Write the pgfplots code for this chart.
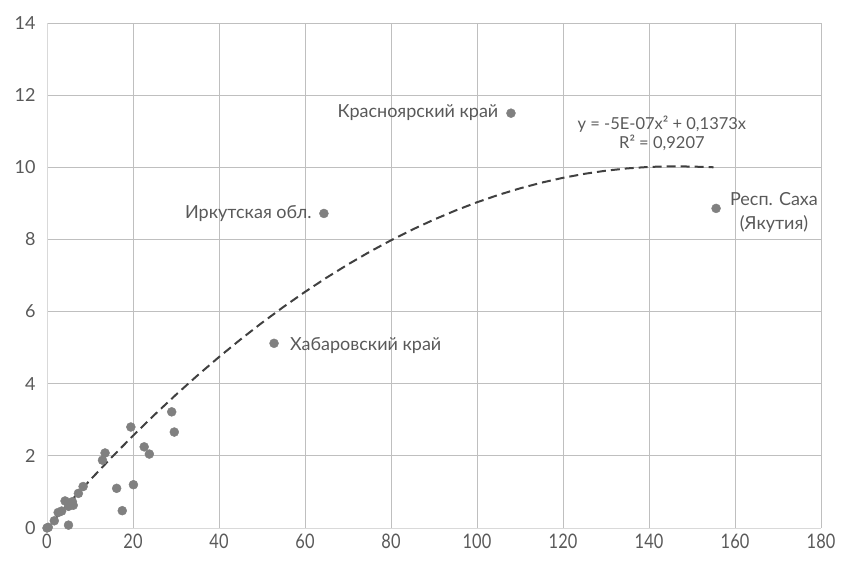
\documentclass[border=0pt]{standalone}
\usepackage{fontspec}
\setmainfont{Lato}
\newfontfamily\xtickfont[FakeStretch=0.82]{Lato}
\usepackage{pgfplots}
\pgfplotsset{compat=1.18}
\definecolor{txt}{HTML}{595959}
\definecolor{grid}{HTML}{D9D9D9}
\definecolor{pt}{HTML}{808080}
\definecolor{trend}{HTML}{404040}
\begin{document}
\begin{tikzpicture}[x=1pt,y=1pt]
\begin{axis}[
  at={(0,0)}, anchor=south west,
  scale only axis, width=774pt, height=505pt,
  xmin=0, xmax=180, ymin=0, ymax=14,
  xtick={0,20,...,180}, ytick={0,2,...,14},
  ymajorgrids, grid style={grid, line width=0.9pt},
  axis line style={grid, line width=0.9pt},
  axis x line*=bottom, axis y line*=left,
  major tick length=0pt,
  tick label style={text=txt},
  /pgf/number format/assume math mode=true,
  xticklabel style={font=\xtickfont\fontsize{20}{22}\selectfont, yshift=-2pt},
  yticklabel style={font=\fontsize{18}{20}\selectfont, xshift=-8pt},
  clip=false,
]
\addplot[only marks, mark=*, mark size=4.5pt, color=pt, mark options={fill=pt, draw=pt}] coordinates {
(0,0) (0.3,0.02) (1.7,0.2) (2.6,0.43) (3.4,0.47) (4.2,0.75) (5.0,0.6) (5.9,0.73) (6.1,0.63)
(5.0,0.08) (7.3,0.96) (8.4,1.15) (12.9,1.88) (13.5,2.08) (16.2,1.1) (17.5,0.48)
(19.5,2.8) (20.1,1.2) (22.6,2.25) (23.8,2.05) (29.0,3.22) (29.6,2.66)
(52.8,5.12) (64.4,8.72) (107.9,11.5) (155.6,8.86)
};
\addplot[trend, line width=2pt, dash pattern=on 9pt off 5pt] coordinates {
(1.7,0.23) (5,0.675) (10,1.326) (15,1.954) (20,2.558) (25,3.139) (30,3.696) (35,4.230)
(40,4.740) (45,5.227) (50,5.690) (55,6.130) (60,6.546) (65,6.939) (70,7.308)
(75,7.654) (80,7.976) (85,8.275) (90,8.550) (95,8.802) (100,9.030) (105,9.235)
(110,9.416) (115,9.574) (120,9.708) (125,9.819) (130,9.906) (135,9.970)
(140,10.010) (145,10.027) (150,10.020) (155,10.0)
};
\begin{scope}[every node/.style={font=\fontsize{18}{24}\selectfont, text=txt, inner sep=0pt}]
\node[anchor=west] at (axis cs:56.5,5.05) {Хабаровский край};
\node[anchor=east] at (axis cs:61.6,8.72) {Иркутская обл.};
\node[anchor=east] at (axis cs:105.0,11.52) {Красноярский край};
\node[anchor=west, align=center] at (axis cs:158.8,8.75) {Респ. Саха\\(Якутия)};
\node[align=center, font=\fontsize{16.5}{19}\selectfont] at (axis cs:143,10.94) {y = -5E-07x² + 0,1373x\\R² = 0,9207};
\end{scope}
\end{axis}
\pgfresetboundingbox
\path (-47pt,-32pt) rectangle (798pt,528pt);
\end{tikzpicture}
\end{document}
